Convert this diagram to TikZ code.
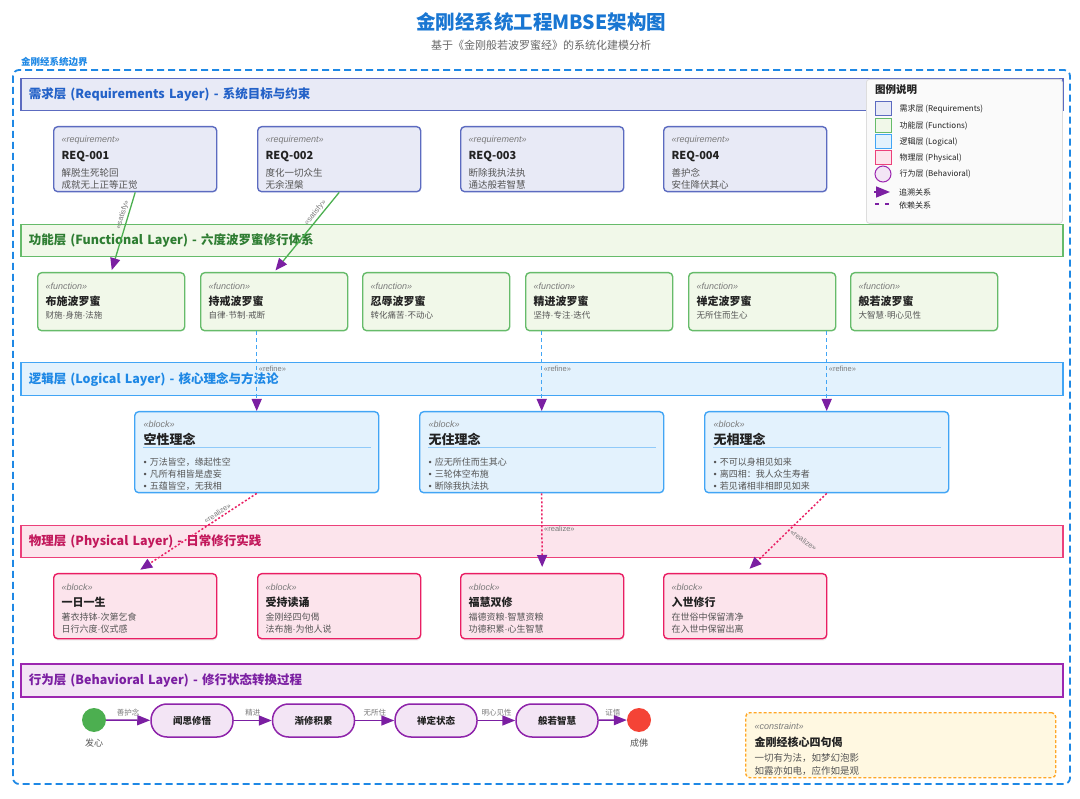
\documentclass[tikz,border=0pt]{standalone}
\usepackage{tikz}
\usepackage{xcolor}
\usepackage{fontspec}
\setmainfont{Noto Sans CJK SC}
\newfontfamily\latfont{Liberation Sans}
\usetikzlibrary{arrows.meta,positioning,shadows}

\definecolor{titleblue}{HTML}{1976D2}
\definecolor{subgray}{HTML}{666666}
\definecolor{bndblue}{HTML}{1E88E5}
\definecolor{stgray}{HTML}{7A7A7A}
\definecolor{txtgray}{HTML}{555555}
\definecolor{txtdark}{HTML}{222222}
\definecolor{reqfill}{HTML}{E8EAF6}
\definecolor{reqline}{HTML}{5C6BC0}
\definecolor{reqtext}{HTML}{2462C8}
\definecolor{funfill}{HTML}{F1F8E9}
\definecolor{funline}{HTML}{66BB6A}
\definecolor{funtext}{HTML}{2E7D32}
\definecolor{logfill}{HTML}{E3F2FD}
\definecolor{logline}{HTML}{42A5F5}
\definecolor{logtext}{HTML}{1E88E5}
\definecolor{logrule}{HTML}{90CAF9}
\definecolor{phyfill}{HTML}{FCE4EC}
\definecolor{phyline}{HTML}{EC407A}
\definecolor{phybox}{HTML}{E91E63}
\definecolor{phytext}{HTML}{C2185B}
\definecolor{behfill}{HTML}{F3E5F5}
\definecolor{behline}{HTML}{8E24AA}
\definecolor{behband}{HTML}{9C27B0}
\definecolor{behtext}{HTML}{7B1FA2}
\definecolor{arrpurple}{HTML}{7B1FA2}
\definecolor{satline}{HTML}{4CAF50}
\definecolor{confill}{HTML}{FFF8E1}
\definecolor{conline}{HTML}{FFA726}
\definecolor{startgreen}{HTML}{4CAF50}
\definecolor{endred}{HTML}{F44336}
\definecolor{legfill}{HTML}{FAFAFA}
\definecolor{legline}{HTML}{DDDDDD}

\newcommand{\stype}[1]{{\latfont\itshape\fontsize{9}{9}\selectfont\color{stgray}#1}}
\newcommand{\bname}[2][11]{{\bfseries\fontsize{#1}{#1}\selectfont\color{txtdark}#2}}
\newcommand{\mdot}{{\latfont·}}
\newcommand{\bul}{{\latfont•} }

\begin{document}
\begin{tikzpicture}[x=1pt,y=-1pt,
	band/.style={draw, line width=1.5pt, anchor=north west, minimum width=1042pt, minimum height=32pt, text width=1026pt, inner xsep=8pt, inner ysep=0pt, align=left, font=\bfseries\fontsize{12.5}{12.5}\selectfont},
	box/.style={draw, line width=1.4pt, rounded corners=4pt, anchor=north west, inner xsep=8pt, inner ysep=0pt, align=left, text=txtgray},
	reqbox/.style={box, draw=reqline, fill=reqfill, text width=147pt, text height=15.4pt, text depth=49.6pt, font=\fontsize{9.5}{12.5}\selectfont},
	funbox/.style={box, draw=funline, fill=funfill, text width=131pt, text height=16.4pt, text depth=41.6pt, font=\fontsize{8.5}{13}\selectfont},
	logbox/.style={box, draw=logline, fill=logfill, inner xsep=9pt, text width=226pt, text height=15.4pt, text depth=65.6pt, font=\fontsize{9}{12}\selectfont},
	phybx/.style={box, draw=phybox, fill=phyfill, text width=147pt, text height=16.4pt, text depth=48.6pt, font=\fontsize{9}{12.5}\selectfont, drop shadow={shadow xshift=0.5pt, shadow yshift=-2pt, opacity=0.12}},
	conbox/.style={box, draw=conline, fill=confill, dash pattern=on 3pt off 2pt, inner xsep=9pt, text width=292pt, text height=16.4pt, text depth=48.6pt, font=\fontsize{9.5}{13}\selectfont},
	lbl/.style={font=\latfont\fontsize{7.5}{7.5}\selectfont, text=stgray, inner sep=1.5pt},
	tlbl/.style={font=\fontsize{7.5}{7.5}\selectfont, text=stgray},
	purplehead/.style={-{Triangle[length=12pt,width=10pt,color=arrpurple]}},
	satisfy/.style={draw=satline, line width=1.3pt, purplehead, shorten >=2pt},
	refine/.style={draw=logline, line width=1.3pt, dash pattern=on 4pt off 3pt, purplehead},
	realize/.style={draw=phybox, line width=1.5pt, dash pattern=on 2pt off 2pt, purplehead, shorten >=6pt},
	trans/.style={draw=arrpurple, line width=1.5pt, -{Triangle[length=13pt,width=10pt]}},
	state/.style={draw=behline, fill=behfill, line width=1.5pt, rounded corners=16pt, minimum width=82pt, minimum height=33pt, font=\bfseries\fontsize{9.5}{9.5}\selectfont, text=txtdark},
	legsq/.style={draw, line width=1pt, minimum width=16pt, minimum height=14pt, inner sep=0pt},
	legtxt/.style={font=\fontsize{8}{8}\selectfont, text=txtdark, inner sep=0pt}]
	\useasboundingbox (0,0) rectangle (1080,799);
	
	\node[font=\bfseries\fontsize{19.5}{19.5}\selectfont, text=titleblue] (title) at (541,22) {金刚经系统工程MBSE架构图};
	\node[font=\fontsize{11}{11}\selectfont, text=subgray] (subtitle) at (541,45) {基于《金刚般若波罗蜜经》的系统化建模分析};
	
	\draw[draw=bndblue, line width=1.8pt, dash pattern=on 7pt off 4pt, rounded corners=6pt] (13,70) rectangle (1070,784);
	\node[font=\bfseries\fontsize{9.5}{9.5}\selectfont, text=bndblue, anchor=west, inner sep=0pt] (bndlabel) at (21,62) {金刚经系统边界};
	
	\node[band, draw=reqline, fill=reqfill, text=reqtext] (lyreq) at (20,78) {需求层 (Requirements Layer) - 系统目标与约束};
	\node[band, draw=funline, fill=funfill, text=funtext] (lyfun) at (20,224) {功能层 (Functional Layer) - 六度波罗蜜修行体系};
	\node[band, draw=logline, fill=logfill, text=logtext, minimum height=33pt] (lylog) at (20,362) {逻辑层 (Logical Layer) - 核心理念与方法论};
	\node[band, draw=phyline, fill=phyfill, text=phytext] (lyphy) at (20,525) {物理层 (Physical Layer) - 日常修行实践};
	\node[band, draw=behband, fill=behfill, text=behtext, minimum height=33pt] (lybeh) at (20,663) {行为层 (Behavioral Layer) - 修行状态转换过程};
	
	\node[reqbox] (r1) at (53,126) {\stype{«requirement»}\\[5pt]\bname{REQ-001}\\[4pt]解脱生死轮回\\成就无上正等正觉};
	\node[reqbox] (r2) at (257,126) {\stype{«requirement»}\\[5pt]\bname{REQ-002}\\[4pt]度化一切众生\\无余涅槃};
	\node[reqbox] (r3) at (460,126) {\stype{«requirement»}\\[5pt]\bname{REQ-003}\\[4pt]断除我执法执\\通达般若智慧};
	\node[reqbox] (r4) at (663,126) {\stype{«requirement»}\\[5pt]\bname{REQ-004}\\[4pt]善护念\\安住降伏其心};
	
	\node[funbox] (f1) at (37,272) {\stype{«function»}\\[3.8pt]\bname{布施波罗蜜}\\财施\mdot 身施\mdot 法施};
	\node[funbox] (f2) at (200,272) {\stype{«function»}\\[3.8pt]\bname{持戒波罗蜜}\\自律\mdot 节制\mdot 戒断};
	\node[funbox] (f3) at (362,272) {\stype{«function»}\\[3.8pt]\bname{忍辱波罗蜜}\\转化痛苦\mdot 不动心};
	\node[funbox] (f4) at (525,272) {\stype{«function»}\\[3.8pt]\bname{精进波罗蜜}\\坚持\mdot 专注\mdot 迭代};
	\node[funbox] (f5) at (688,272) {\stype{«function»}\\[3.8pt]\bname{禅定波罗蜜}\\无所住而生心};
	\node[funbox] (f6) at (850,272) {\stype{«function»}\\[3.8pt]\bname{般若波罗蜜}\\大智慧\mdot 明心见性};
	
	\node[logbox] (k1) at (134,411) {\stype{«block»}\\[5.5pt]\bname[13]{空性理念}\\[8.5pt]\bul 万法皆空，缘起性空\\\bul 凡所有相皆是虚妄\\\bul 五蕴皆空，无我相};
	\node[logbox] (k2) at (419,411) {\stype{«block»}\\[5.5pt]\bname[13]{无住理念}\\[8.5pt]\bul 应无所住而生其心\\\bul 三轮体空布施\\\bul 断除我执法执};
	\node[logbox] (k3) at (704,411) {\stype{«block»}\\[5.5pt]\bname[13]{无相理念}\\[8.5pt]\bul 不可以身相见如来\\\bul 离四相：我人众生寿者\\\bul 若见诸相非相即见如来};
	\draw[logrule, line width=1pt] ([xshift=9pt,yshift=-37pt]k1.north west) -- ([xshift=-8pt,yshift=-37pt]k1.north east);
	\draw[logrule, line width=1pt] ([xshift=9pt,yshift=-37pt]k2.north west) -- ([xshift=-8pt,yshift=-37pt]k2.north east);
	\draw[logrule, line width=1pt] ([xshift=9pt,yshift=-37pt]k3.north west) -- ([xshift=-8pt,yshift=-37pt]k3.north east);
	
	\node[phybx] (p1) at (53,573) {\stype{«block»}\\[4pt]\bname{一日一生}\\[1pt]著衣持钵\mdot 次第乞食\\日行六度\mdot 仪式感};
	\node[phybx] (p2) at (257,573) {\stype{«block»}\\[4pt]\bname{受持读诵}\\[1pt]金刚经四句偈\\法布施\mdot 为他人说};
	\node[phybx] (p3) at (460,573) {\stype{«block»}\\[4pt]\bname{福慧双修}\\[1pt]福德资粮\mdot 智慧资粮\\功德积累\mdot 心生智慧};
	\node[phybx] (p4) at (663,573) {\stype{«block»}\\[4pt]\bname{入世修行}\\[1pt]在世俗中保留清净\\在入世中保留出离};
	
	\node[conbox] (c1) at (745,712) {\stype{«constraint»}\\[4pt]\bname{金刚经核心四句偈}\\[2.5pt]一切有为法，如梦幻泡影\\如露亦如电，应作如是观};
	
	\draw[satisfy] (r1.south) -- (f1.north) node[lbl, sloped, above, pos=0.3] {«satisfy»};
	\draw[satisfy] (r2.south) -- (f2.north) node[lbl, sloped, above, pos=0.3] {«satisfy»};
	
	\draw[refine] (k1.north |- f2.south) -- (k1.north) node[lbl, right, pos=0.47] {«refine»};
	\draw[refine] (k2.north |- f4.south) -- (k2.north) node[lbl, right, pos=0.47] {«refine»};
	\draw[refine] (k3.north |- f5.south) -- (k3.north) node[lbl, right, pos=0.47] {«refine»};
	
	\draw[realize] (k1.south) -- (p1.north) node[lbl, sloped, above, pos=0.3] {«realize»};
	\draw[realize] (k2.south) -- (p3.north) node[lbl, right, pos=0.44] {«realize»};
	\draw[realize] (k3.south) -- (p4.north) node[lbl, right, rotate=-35, pos=0.46] {«realize»};
	
	\node[circle, fill=startgreen, minimum size=24pt, inner sep=0pt] (s0) at (94,720) {};
	\node[font=\fontsize{9}{9}\selectfont, text=txtgray, below=3pt of s0] (s0lbl) {发心};
	\node[state] (b1) at (192,720.5) {闻思修悟};
	\node[state] (b2) at (313.5,720.5) {渐修积累};
	\node[state] (b3) at (436,720.5) {禅定状态};
	\node[state] (b4) at (557,720.5) {般若智慧};
	\node[circle, fill=endred, minimum size=24pt, inner sep=0pt] (s1) at (639,720) {};
	\node[font=\fontsize{9}{9}\selectfont, text=txtgray, below=3pt of s1] (s1lbl) {成佛};
	\draw[trans] (s0) -- (b1) node[tlbl, midway, above] {善护念};
	\draw[trans] (b1) -- (b2) node[tlbl, midway, above] {精进};
	\draw[trans] (b2) -- (b3) node[tlbl, midway, above] {无所住};
	\draw[trans] (b3) -- (b4) node[tlbl, midway, above] {明心见性};
	\draw[trans] (b4) -- (s1) node[tlbl, midway, above] {证悟};
	
	\node[draw=legline, fill=legfill, line width=0.8pt, rounded corners=3pt, anchor=north west, minimum width=196pt, minimum height=144pt] (lg) at (866,79) {};
	\node[font=\bfseries\fontsize{10.5}{10.5}\selectfont, text=txtdark, anchor=west, inner sep=0pt] (lgtitle) at (875,90) {图例说明};
	\node[legsq, draw=reqline, fill=reqfill] (lg1) at (883,109) {};
	\node[legsq, draw=funline, fill=funfill] (lg2) at (883,126) {};
	\node[legsq, draw=logline, fill=logfill] (lg3) at (883,142) {};
	\node[legsq, draw=phyline, fill=phyfill] (lg4) at (883,158) {};
	\node[circle, draw=behband, fill=behfill, line width=1pt, minimum size=16pt, inner sep=0pt] (lg5) at (883,174) {};
	\node[legtxt, right=8pt of lg1] (lg1t) {需求层 (Requirements)};
	\node[legtxt, right=8pt of lg2] (lg2t) {功能层 (Functions)};
	\node[legtxt, right=8pt of lg3] (lg3t) {逻辑层 (Logical)};
	\node[legtxt, right=8pt of lg4] (lg4t) {物理层 (Physical)};
	\node[legtxt, right=8pt of lg5] (lg5t) {行为层 (Behavioral)};
	\coordinate (lga) at (874,192);
	\coordinate (lgb) at (890,192);
	\coordinate (lgc) at (875,204);
	\coordinate (lgd) at (891,204);
	\draw[draw=arrpurple, line width=1.5pt, -{Triangle[length=14pt,width=11pt]}] (lga) -- (lgb);
	\draw[draw=arrpurple, line width=1.5pt, dash pattern=on 4pt off 6pt] (lgc) -- (lgd);
	\node[legtxt, anchor=west] (lg6t) at (899,192) {追溯关系};
	\node[legtxt, anchor=west] (lg7t) at (899,205) {依赖关系};
\end{tikzpicture}
\end{document}
